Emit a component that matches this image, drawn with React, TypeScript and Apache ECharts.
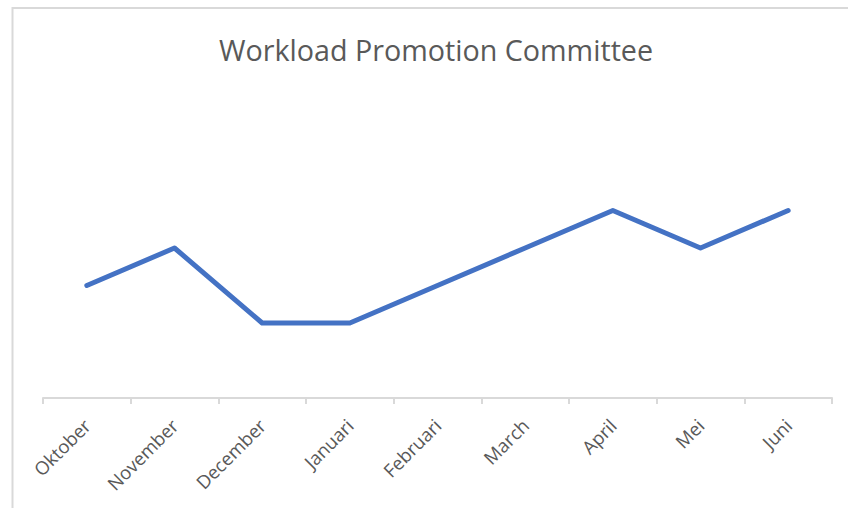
import React, { useEffect, useRef } from "react";
import * as echarts from "echarts";

const titleText = "Workload Promotion Committee";
const categories = ["Oktober", "November", "December", "Januari", "Februari", "March", "April", "Mei", "Juni"];
const workload = [3, 4, 2, 2, 3, 4, 5, 4, 5];
const yMin = 0;
const yMax = 6;

export default function App() {
  const ref = useRef<HTMLDivElement>(null);
  useEffect(() => {
    if (!ref.current) return;
    const chart = echarts.init(ref.current, null, { renderer: "svg" });
    chart.setOption({
      animation: false,
      backgroundColor: "#ffffff",
      title: {
        text: titleText,
        left: 431,
        top: 30,
        textAlign: "center",
        textStyle: {
          fontFamily: "Open Sans",
          fontSize: 28.7,
          fontWeight: "normal",
          color: "#595959",
        },
      },
      graphic: [
        {
          type: "polyline",
          shape: { points: [[12.5, 560], [12.5, 8], [900, 8]] },
          style: { fill: "none", stroke: "#d9d9d9", lineWidth: 2 },
          silent: true,
        },
      ],
      grid: { left: 43, right: 16, top: 173, bottom: 110, containLabel: false },
      xAxis: {
        type: "category",
        data: categories,
        boundaryGap: true,
        axisLine: { show: true, lineStyle: { color: "#d9d9d9", width: 2 } },
        axisTick: { show: true, length: 6, lineStyle: { color: "#d9d9d9", width: 2 } },
        axisLabel: {
          rotate: 45,
          margin: 24,
          fontFamily: "Open Sans",
          fontSize: 18.5,
          color: "#595959",
        },
        splitLine: { show: false },
      },
      yAxis: {
        type: "value",
        min: yMin,
        max: yMax,
        show: false,
        splitLine: { show: false },
      },
      series: [
        {
          type: "line",
          data: workload,
          symbol: "none",
          lineStyle: { color: "#4472c4", width: 5, cap: "round", join: "round" },
        },
      ],
    });
    return () => chart.dispose();
  }, []);
  return (
    <div
      ref={ref}
      style={{ position: "fixed", left: 0, top: 0, width: 848, height: 508 }}
    />
  );
}
